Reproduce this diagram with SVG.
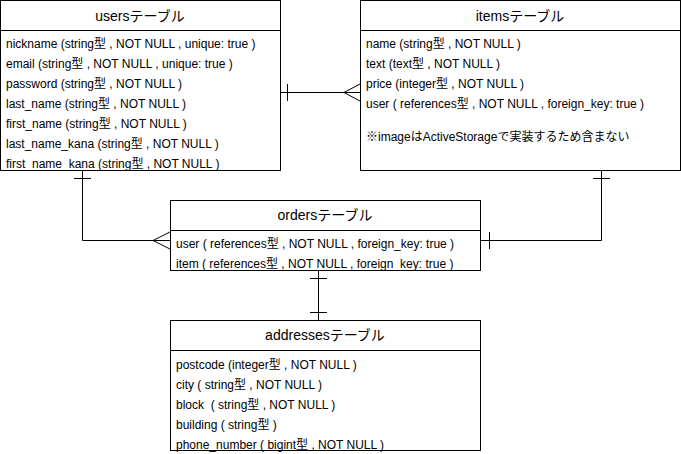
<svg xmlns="http://www.w3.org/2000/svg" width="681" height="454" viewBox="0 0 681 454">
<style>
.box{fill:#fff;stroke:#000;stroke-width:1}
.ln{fill:none;stroke:#000;stroke-width:1}
.t{font-family:"Liberation Sans","Noto Sans CJK JP",sans-serif;font-size:14px;fill:#000;text-anchor:middle}
.r{font-family:"Liberation Sans","Noto Sans CJK JP",sans-serif;font-size:12px;fill:#000;white-space:pre}
</style>
<rect width="681" height="454" fill="#fff"/>
<g id="connectors">
<path class="ln" d="M280,92.5 H361"/>
<path class="ln" d="M287.5,84 V101"/>
<path class="ln" d="M361,83.5 L344,92.5 L361,101.5"/>
<path class="ln" d="M82.5,171 V240.5 H170"/>
<path class="ln" d="M74,178.5 H91"/>
<path class="ln" d="M170,232 L153,240.5 L170,249"/>
<path class="ln" d="M601.5,171 V240.5 H481"/>
<path class="ln" d="M593,178.5 H610"/>
<path class="ln" d="M489.5,232 V249"/>
<path class="ln" d="M318.5,271 V320"/>
<path class="ln" d="M310,278.5 H327"/>
<path class="ln" d="M310,312.5 H327"/>
</g>
<g id="users">
<rect class="box" x="0.5" y="0.5" width="280" height="170"/>
<path class="ln" d="M0.5,30.5 H280.5"/>
<text class="t" x="140" y="21">usersテーブル</text>
<text class="r" x="6" y="47.5">nickname (string型 , NOT NULL , unique: true )</text>
<text class="r" x="6" y="67.5">email (string型 , NOT NULL , unique: true )</text>
<text class="r" x="6" y="87.5">password (string型 , NOT NULL )</text>
<text class="r" x="6" y="107.5">last_name (string型 , NOT NULL )</text>
<text class="r" x="6" y="127.5">first_name (string型 , NOT NULL )</text>
<text class="r" x="6" y="147.5">last_name_kana (string型 , NOT NULL )</text>
<text class="r" x="6" y="167.5">first_name_kana (string型 , NOT NULL )</text>
</g>
<g id="items">
<rect class="box" x="360.5" y="0.5" width="320" height="170"/>
<path class="ln" d="M360.5,30.5 H680.5"/>
<text class="t" x="520" y="21">itemsテーブル</text>
<text class="r" x="366" y="47.5">name (string型 , NOT NULL )</text>
<text class="r" x="366" y="67.5">text (text型 , NOT NULL )</text>
<text class="r" x="366" y="87.5">price (integer型 , NOT NULL )</text>
<text class="r" x="366" y="107.5">user ( references型 , NOT NULL , foreign_key: true )</text>
<text class="r" x="366" y="141">※imageはActiveStorageで実装するため含まない</text>
</g>
<g id="orders">
<rect class="box" x="170.5" y="200.5" width="310" height="70"/>
<path class="ln" d="M170.5,230.5 H480.5"/>
<text class="t" x="325" y="220">ordersテーブル</text>
<text class="r" x="176" y="248">user ( references型 , NOT NULL , foreign_key: true )</text>
<text class="r" x="176" y="267.5">item ( references型 , NOT NULL , foreign_key: true )</text>
</g>
<g id="addresses">
<rect class="box" x="170.5" y="320.5" width="310" height="130"/>
<path class="ln" d="M170.5,350.5 H480.5"/>
<text class="t" x="325" y="340">addressesテーブル</text>
<text class="r" x="176" y="368.5">postcode (integer型 , NOT NULL )</text>
<text class="r" x="176" y="388.5">city ( string型 , NOT NULL )</text>
<text class="r" x="176" y="408.5">block  ( string型 , NOT NULL )</text>
<text class="r" x="176" y="428.5">building ( string型 )</text>
<text class="r" x="176" y="448.5">phone_number ( bigint型 , NOT NULL )</text>
</g>
</svg>
